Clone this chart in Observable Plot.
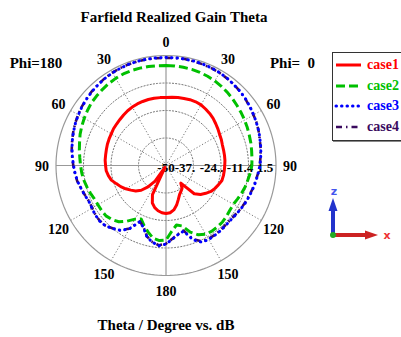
<!DOCTYPE html>
<html><head><meta charset="utf-8">
<script src="https://cdn.jsdelivr.net/npm/d3@7"></script>
<script src="https://cdn.jsdelivr.net/npm/@observablehq/plot@0.6"></script>
<style>
body{margin:0;background:#fff;}
#wrap{position:relative;width:401px;height:337px;overflow:hidden;background:#fff;font-family:"Liberation Serif","Times New Roman",serif;font-weight:bold;color:#000;}
#wrap svg.plot{position:absolute;left:0;top:0;}
.lbl{position:absolute;line-height:1;white-space:pre;transform:translate(-50%,-50%);}
#legend{position:absolute;left:332px;top:52px;width:80px;height:87px;border:1px solid #333;box-shadow:1px 1px 0 #888;background:#fff;}
.li{position:absolute;left:0;height:20px;display:flex;align-items:center;font-size:14px;}
</style></head>
<body><div id="wrap"></div>
<script>
// ---- data (theta direction clockwise from top: 0..180 = Phi 0 side, 180..360 = Phi 180 side) ----
const angles = [0,5,10,15,20,25,30,35,40,45,50,55,60,65,70,75,80,85,90,95,100,105,110,115,120,125,130,135,140,145,150,155,160,165,170,175,
  180,185,190,195,200,205,210,215,220,225,230,235,240,245,250,255,260,265,270,275,280,285,290,295,300,305,310,315,320,325,330,335,340,345,350,355];
const case1 = [-18.2,-17.9,-17.7,-17.5,-17.2,-17.1,-17.2,-17.7,-18.2,-18.8,-19.6,-20.3,-21.0,-21.4,-21.9,-22.1,-22.2,-22.3,-22.5,-22.6,-22.7,-22.9,-23.8,-24.7,-25.7,-27.3,-28.9,-31.3,-39.2,-36.9,-36.0,-35.0,-33.1,-30.8,-28.9,-27.8,
  -27.5,-27.8,-28.5,-29.6,-31.3,-35.0,-49.0,-41.1,-36.9,-33.6,-31.5,-29.9,-28.2,-26.6,-25.2,-23.5,-22.6,-21.9,-21.7,-21.4,-21.3,-21.1,-20.8,-20.6,-20.4,-20.0,-19.8,-19.5,-19.1,-18.7,-18.4,-18.2,-18.1,-18.0,-18.0,-18.1];
const case2 = [-3.2,-3.2,-3.3,-3.4,-3.6,-3.9,-4.3,-4.8,-5.3,-5.9,-6.5,-7.0,-7.5,-8.0,-8.5,-8.9,-9.3,-9.6,-9.8,-10.4,-11.1,-11.6,-12.3,-13.0,-13.6,-13.5,-13.0,-12.6,-12.5,-12.5,-12.8,-14.2,-16.8,-20.7,-21.7,-19.1,
  -15.1,-14.7,-15.4,-17.7,-20.0,-22.4,-21.0,-18.2,-15.6,-14.2,-13.3,-13.2,-13.2,-13.0,-12.3,-11.6,-10.9,-10.4,-10.0,-9.5,-8.8,-8.1,-7.2,-6.5,-5.8,-5.1,-4.4,-4.0,-3.6,-3.2,-2.9,-2.7,-2.7,-2.8,-2.9,-3.1];
const case3 = [0.6,0.6,0.6,0.6,0.5,0.4,0.2,-0.1,-0.6,-0.9,-1.4,-2.0,-2.6,-3.2,-3.7,-4.4,-4.9,-5.5,-6.0,-6.7,-7.3,-7.9,-8.4,-8.9,-9.5,-10.0,-10.4,-10.4,-10.2,-10.1,-10.0,-10.4,-13.0,-18.2,-17.2,-15.4,
  -13.2,-12.3,-13.5,-15.4,-19.1,-21.0,-15.8,-12.9,-11.4,-10.0,-9.5,-9.6,-10.0,-10.2,-9.5,-8.8,-7.9,-7.3,-6.7,-6.0,-5.3,-4.6,-3.9,-3.2,-2.6,-2.0,-1.5,-1.0,-0.6,-0.2,0.1,0.3,0.5,0.6,0.6,0.6];
const case4 = [0.4,0.5,0.6,0.5,0.4,0.3,0.1,-0.2,-0.5,-1.0,-1.5,-2.1,-2.7,-3.1,-3.8,-4.5,-5.0,-5.6,-6.1,-6.8,-7.4,-8.0,-8.6,-9.1,-9.6,-10.2,-10.6,-10.6,-10.4,-10.3,-10.3,-10.8,-13.4,-18.5,-17.4,-15.6,
  -13.4,-12.5,-13.6,-15.6,-19.3,-21.1,-15.9,-13.0,-11.5,-10.1,-9.6,-9.7,-10.1,-10.3,-9.6,-8.8,-7.8,-7.2,-6.6,-5.9,-5.2,-4.5,-3.8,-3.1,-2.5,-1.9,-1.4,-0.9,-0.5,-0.1,0.2,0.4,0.5,0.5,0.5,0.4];
const seriesNames = ["case1","case2","case3","case4"];
const radialTicks = [-50, -37.125, -24.25, -11.375, 1.5];
const radialTickLabels = ["-50","-37.","-24..","-11.4","1.5"];
const angleTicks = [0,30,60,90,120,150,180,210,240,270,300,330];
const angleTickLabels = ["0","30","60","90","120","150","180","150","120","90","60","30"];

// ---- style ----
const colors = ["#ff0000","#00c000","#0000ff","#3a0a5e"];
const dashes = [null,"9,4","0.5,5","6,4,1.5,4"];
const caps = ["butt","butt","round","butt"];
const widths = [3,3,3,2.6];
const drawOrder = [0,1,3,2];
const W = 401, H = 337, cx = 165.5, cy = 165, Rpx = 110;
const FONT = '"Liberation Serif","Times New Roman",serif';

const rad = d3.scaleLinear().domain([radialTicks[0], radialTicks[radialTicks.length-1]]).range([0,1]).clamp(true);
const pol = (a, r) => ({x: r*Math.sin(a*Math.PI/180), y: r*Math.cos(a*Math.PI/180)});

const series = [case1,case2,case3,case4].map((vals,k) => angles.map((a,i) => ({name: seriesNames[k], a, v: vals[i], ...pol(a, rad(vals[i]))})));

const ringPts = radialTicks.slice(1).flatMap(t => d3.range(0, 361, 2).map(a => ({t, ...pol(a, rad(t))})));
const outer = radialTicks[radialTicks.length-1];
const spokes = angleTicks.map(a => ({a, x1: 0, y1: 0, ...(({x,y}) => ({x2:x, y2:y}))(pol(a, 1))}));
const angLab = angleTicks.map((a,i) => ({label: angleTickLabels[i], ...pol(a, 1.128)}));
const radOffsets = [0.0, -0.077, -0.085, -0.077, -0.098];
const radLab = radialTicks.map((t,i) => ({label: radialTickLabels[i], x: rad(t) + radOffsets[i], y: 0}));

const plot = Plot.plot({
  width: W, height: H, margin: 0,
  x: {domain: [-cx/Rpx, (W-cx)/Rpx], axis: null},
  y: {domain: [-(H-cy)/Rpx, cy/Rpx], axis: null},
  style: {background: "transparent", fontFamily: FONT},
  marks: [
    Plot.line(ringPts.filter(d => d.t !== outer), {x: "x", y: "y", z: "t", stroke: "#777", strokeWidth: 1, strokeDasharray: "1.2,2"}),
    Plot.link(spokes.filter(d => d.a % 90 !== 0), {x1: "x1", y1: "y1", x2: "x2", y2: "y2", stroke: "#777", strokeWidth: 1, strokeDasharray: "1.2,2"}),
    Plot.link(spokes.filter(d => d.a % 90 === 0), {x1: "x1", y1: "y1", x2: "x2", y2: "y2", stroke: "#999", strokeWidth: 1.2}),
    Plot.line(ringPts.filter(d => d.t === outer), {x: "x", y: "y", stroke: "#999", strokeWidth: 1.2}),
    Plot.text(angLab, {x: "x", y: "y", text: "label", fontSize: 14, fontWeight: "bold", fill: "#000", dy: 1.5}),
    Plot.text(radLab, {x: "x", y: "y", text: "label", fontSize: 13, fontWeight: "bold", fill: "#000", dy: 2}),
    ...drawOrder.map(k => Plot.line(series[k], {x: "x", y: "y", curve: "linear-closed", stroke: colors[k], strokeWidth: widths[k], strokeLinecap: caps[k], strokeDasharray: dashes[k] || undefined}))
  ]
});
plot.classList.add("plot");
const wrap = document.getElementById("wrap");
wrap.appendChild(plot);

function label(text, x, y, size, color) {
  const d = document.createElement("div");
  d.className = "lbl"; d.textContent = text;
  d.style.left = x + "px"; d.style.top = y + "px"; d.style.fontSize = size + "px";
  if (color) d.style.color = color;
  wrap.appendChild(d);
}
label("Farfield Realized Gain Theta", 174, 16.5, 15);
label("Phi=180", 36, 62.5, 15);
label("Phi=  0", 292.5, 62.5, 15);
label("Theta / Degree vs. dB", 166, 324.5, 15);

// legend
const lg = document.createElement("div"); lg.id = "legend"; wrap.appendChild(lg);
seriesNames.forEach((n,k) => {
  const row = document.createElement("div"); row.className = "li";
  row.style.top = (2 + k*20.7) + "px";
  row.innerHTML = `<svg width="30" height="20" style="margin-left:1px"><line x1="2" y1="10" x2="27" y2="10" stroke="${colors[k]}" stroke-width="${widths[k]}" stroke-linecap="${caps[k]}" ${dashes[k] ? `stroke-dasharray="${dashes[k]}"` : ""}/></svg><span style="color:${colors[k]};margin-left:3px">${n}</span>`;
  lg.appendChild(row);
});

// axis triad
const tri = document.createElement("div");
tri.style.cssText = "position:absolute;left:318px;top:182px;width:83px;height:65px;";
tri.innerHTML = `<svg width="83" height="65">
<line x1="15" y1="53" x2="15" y2="26" stroke="#2233cc" stroke-width="4"/>
<polygon points="15,16 10.5,29 19.5,29" fill="#2233cc"/>
<line x1="15" y1="53" x2="50" y2="53" stroke="#cc2222" stroke-width="4"/>
<polygon points="60,53 47,48.5 47,57.5" fill="#cc2222"/>
<circle cx="15" cy="53" r="3" fill="#22aa22"/>
<text x="16" y="13" font-family="DejaVu Sans, sans-serif" font-size="11" fill="#4455ee" text-anchor="middle">z</text>
<text x="69" y="57" font-family="DejaVu Sans, sans-serif" font-size="11" fill="#ee3333" text-anchor="middle">x</text>
</svg>`;
wrap.appendChild(tri);
</script>
</body></html>
